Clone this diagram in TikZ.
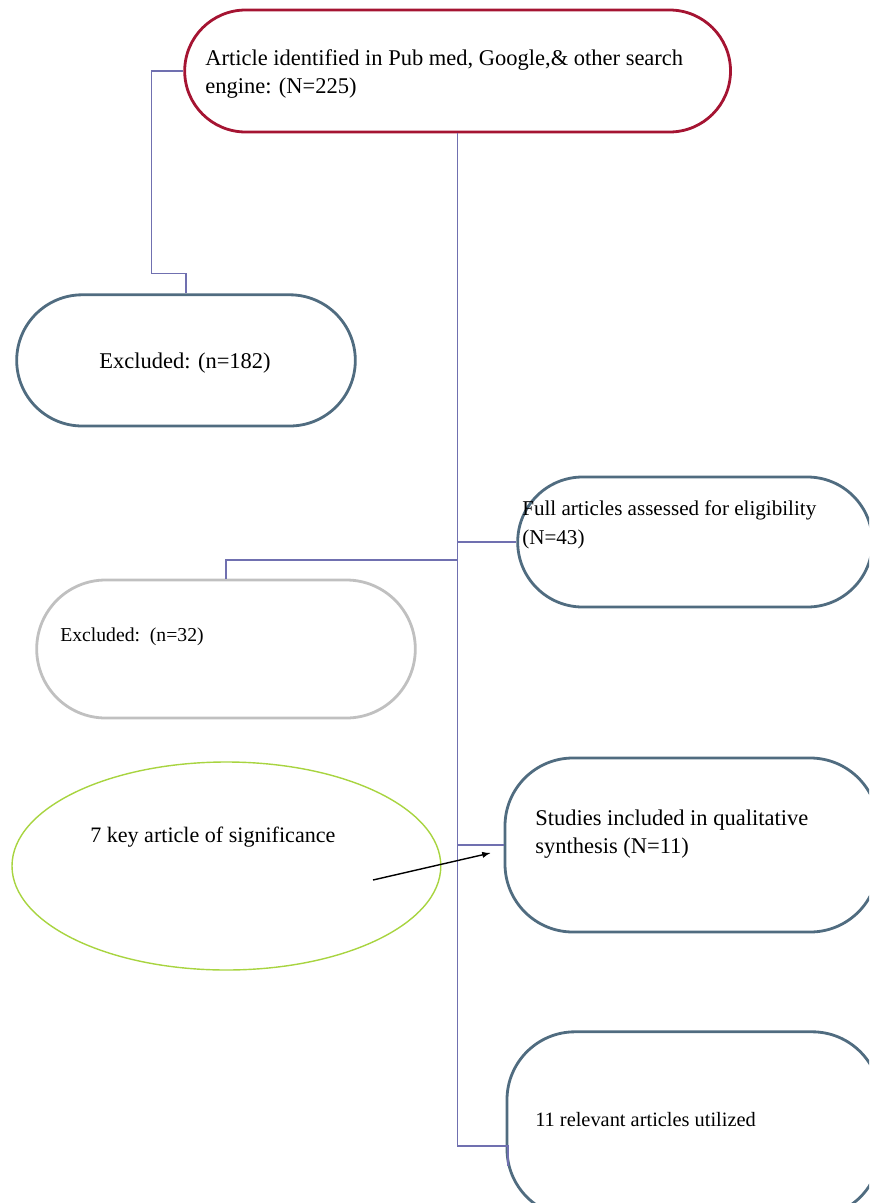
\documentclass[tikz,border=0pt]{standalone}
\usepackage{fontspec}
\setmainfont{Liberation Serif}
\usetikzlibrary{arrows,shapes.misc,shapes.geometric}

\definecolor{topred}{RGB}{165,20,50}
\definecolor{slate}{RGB}{80,108,128}
\definecolor{boxgray}{RGB}{192,192,192}
\definecolor{linkblue}{RGB}{112,112,176}
\definecolor{leafgreen}{RGB}{168,212,64}

\begin{document}
\begin{tikzpicture}[>=latex,
	pill/.style={draw, rounded rectangle, line width=2pt},
	roundbox/.style={draw, rectangle, rounded corners=1.7cm, line width=2pt},
	link/.style={draw=linkblue, line width=0.8pt},
	txt/.style={anchor=west, align=left, inner sep=0pt, font=\fontsize{16}{20}\selectfont},
	smalltxt/.style={txt, font=\fontsize{14.5}{21}\selectfont}]

\useasboundingbox (0,0) rectangle (21.725,-30.075);
\clip (0,0) rectangle (21.725,-30.075);

% boxes
\node[pill, draw=topred, minimum width=13.88cm, minimum height=3.05cm] (search) at (11.44,-1.775) {};
\node[pill, draw=slate, minimum width=8.7cm, minimum height=3.28cm] (excl1) at (4.65,-9.01) {};
\node[pill, draw=slate, minimum width=9.1cm, minimum height=3.25cm] (full) at (17.375,-13.55) {};
\node[pill, draw=boxgray, minimum width=9.7cm, minimum height=3.45cm] (excl2) at (5.65,-16.225) {};
\node[roundbox, draw=slate, minimum width=9.33cm, minimum height=4.35cm] (studies) at (17.29,-21.125) {};
\node[draw=leafgreen, ellipse, line width=1pt, minimum width=10.72cm, minimum height=5.2cm, inner sep=0pt] (keyart) at (5.66,-21.65) {};
\node[roundbox, draw=slate, minimum width=9.33cm, minimum height=4.63cm] (utilized) at (17.34,-28.11) {};

% texts
\node[txt] (searchTxt) at (5.125,-1.85) {Article identified in Pub med, Google,\& other search\\engine: (N=225)};
\node[txt, anchor=center] (excl1Txt) at (4.625,-9.075) {Excluded: (n=182)};
\node[smalltxt, font=\fontsize{15}{21}\selectfont] (fullTxt) at (13.05,-13.125) {Full articles assessed for eligibility\\(N=43)};
\node[smalltxt, font=\fontsize{14}{20}\selectfont] (excl2Txt) at (1.5,-15.925) {Excluded:\ \ (n=32)};
\node[txt] (studiesTxt) at (13.375,-20.85) {Studies included in qualitative\\synthesis (N=11)};
\node[txt, font=\fontsize{15.7}{20}\selectfont] (keyTxt) at (2.25,-20.925) {7 key article of significance};
\node[smalltxt] (utilTxt) at (13.375,-28.0) {11 relevant articles utilized};

% connectors
\coordinate (spineEnd) at (12.7,-28.65);
\coordinate (arrowTail) at (9.325,-22.0);

\draw[link] (search.west) -- ++(-0.8,0) |- ([yshift=0.5cm]excl1.north) -- (excl1.north);
\draw[link] (search.south) |- (spineEnd) -- ++(0,-0.5);
\draw[link] (full.west) -- (full.west -| search.south);
\draw[link] (search.south |- 0,-14.0) -| (excl2.north);
\draw[link] (studies.west) -- (studies.west -| search.south);

\draw[->, line width=1pt] (arrowTail) -- ([xshift=-0.33cm,yshift=-0.2cm]studies.west);

\end{tikzpicture}
\end{document}
